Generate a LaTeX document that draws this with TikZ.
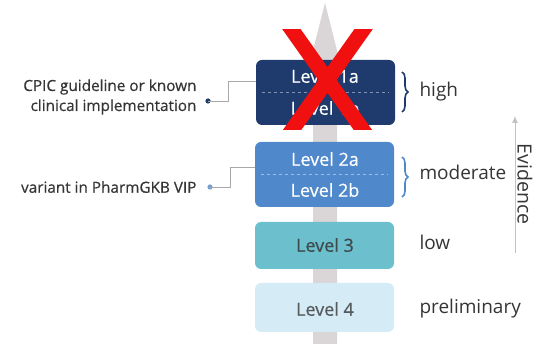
\documentclass[tikz,border=0pt]{standalone}
\usepackage{fontspec}
\setmainfont{Open Sans}
\newfontfamily\heavyfont[FakeBold=0.5]{Open Sans}
\usepackage{xcolor}
\usepackage{tikz}
\usetikzlibrary{arrows.meta, positioning, decorations.pathreplacing}
\definecolor{levelnavy}{HTML}{1F3A6C}
\definecolor{levelblue}{HTML}{4F88CB}
\definecolor{levelteal}{HTML}{6CBFCC}
\definecolor{levellight}{HTML}{D5EBF6}
\definecolor{shaftgray}{HTML}{DAD5D6}
\definecolor{textgray}{HTML}{353535}
\definecolor{linegray}{HTML}{A8A8A8}
\definecolor{crossred}{HTML}{F01010}

\tikzset{
  levelbox/.style={rounded corners=6pt, minimum width=139pt, inner sep=0pt},
  leveltext/.style={font=\heavyfont\fontsize{18}{20}\selectfont},
  ratetext/.style={anchor=west, text=textgray, font=\fontsize{19}{21}\selectfont},
  notetext/.style={anchor=east, align=right, text=textgray, font=\heavyfont\fontsize{15.3}{20}\selectfont},
}

\begin{document}
\begin{tikzpicture}[x=1pt, y=-1pt]
        \useasboundingbox (0,0) rectangle (533,344);

        % Central shaft and arrow head
        \fill[shaftgray] (313,344) -- (313,70) -- (308,70) -- (325,3) -- (342,70) -- (337,70) -- (337,344) -- cycle;

        % Level boxes
        \node[levelbox, fill=levelnavy, minimum height=65pt] (box1) at (325.5,92.5) {};
        \node[levelbox, fill=levelblue, minimum height=65pt] (box2) at (324.5,174.5) {};
        \node[levelbox, fill=levelteal, minimum height=47pt] (box3) at (324.5,245.5) {};
        \node[levelbox, fill=levellight, minimum height=49pt] (box4) at (324.5,307.5) {};

        % Dashed dividers
        \draw[levelnavy!55!white, dashed] ([xshift=6pt]box1.west) -- ([xshift=-6pt]box1.east);
        \draw[levelblue!55!white, dashed] ([xshift=6pt]box2.west) -- ([xshift=-6pt]box2.east);

        % Level labels
        \node[leveltext, text=white] (l1a) at (325,76) {Level 1a};
        \node[leveltext, text=white] (l1b) at (325,108) {Level 1b};
        \node[leveltext, text=white] (l2a) at (325,159) {Level 2a};
        \node[leveltext, text=white] (l2b) at (325,190) {Level 2b};
        \node[leveltext, text=textgray!85!levelteal] (l3) at (325,245) {Level 3};
        \node[leveltext, text=textgray!80!levellight] (l4) at (325,309) {Level 4};

        % Braces
        \draw[levelnavy, line width=1.6pt, decorate, decoration={brace, amplitude=6pt}] (402,72) -- (402,112);
        \draw[levelblue, line width=1.6pt, decorate, decoration={brace, amplitude=6pt}] (402,157) -- (402,197);

        % Evidence ratings
        \node[ratetext] (high) at (416,92) {high};
        \node[ratetext] (moderate) at (416,172) {moderate};
        \node[ratetext] (low) at (416,242) {low};
        \node[ratetext] (prelim) at (416,309) {preliminary};

        % Evidence axis
        \coordinate (evbot) at (515,253);
        \coordinate (evtop) at (515,116);
        \draw[linegray!70!white, line width=1pt, -{Latex[length=7pt, width=6pt]}] (evbot) -- (evtop);
        \node[rotate=-90, text=textgray, font=\fontsize{19.5}{21}\selectfont] (evidence) at (525,184) {Evidence};

        % Notes on the left
        \node[notetext] (cpic) at (200,97) {CPIC guideline or known\\clinical implementation};
        \node[notetext] (vip) at (200,187) {variant in PharmGKB VIP};
        \fill[levelnavy] (208,101) circle (2.6pt) coordinate (dot1);
        \fill[levelblue!80!white] (210,187) circle (2.6pt) coordinate (dot2);
        \draw[linegray, line width=0.6pt] (dot1) -- ++(20,0) |- ([yshift=11.5pt]box1.west);
        \draw[linegray, line width=0.6pt] (dot2) -- ++(20,0) |- ([yshift=7.5pt]box2.west);

        % Red cross
        \begin{scope}
          \clip (270,30) rectangle (385,130);
          \draw[crossred, line width=15pt] (280,13) -- (375,147);
          \draw[crossred, line width=15pt] (375,13) -- (280,147);
        \end{scope}
    \end{tikzpicture}
\end{document}
